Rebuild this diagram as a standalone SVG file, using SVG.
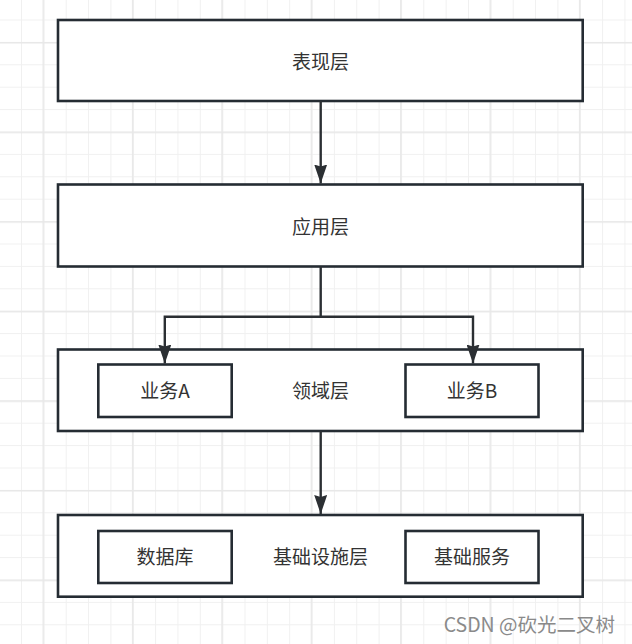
<svg xmlns="http://www.w3.org/2000/svg" width="632" height="644" viewBox="0 0 632 644">
  <defs>
    <pattern id="minor" patternUnits="userSpaceOnUse" x="21" y="19.5" width="22.35" height="22.4">
      <path d="M0.5 0 V22.4 M0 0.5 H22.35" fill="none" stroke="#f0f0f0" stroke-width="1"/>
    </pattern>
    <pattern id="major" patternUnits="userSpaceOnUse" x="42.5" y="42" width="89.4" height="89.6">
      <path d="M0.75 0 V89.6 M0 0.75 H89.4" fill="none" stroke="#e8e8e8" stroke-width="1.5"/>
    </pattern>
    <marker id="head" viewBox="0 0 19 13" refX="19" refY="6.5" markerWidth="19" markerHeight="13" markerUnits="userSpaceOnUse" orient="auto">
      <path d="M0 0 L19 6.5 L0 13 L2 6.5 Z" fill="#2b2f33"/>
    </marker>
  </defs>
  <style>
    .box { fill: #ffffff; stroke: #252c33; stroke-width: 2.6; }
    .lbl { font-family: "Microsoft YaHei", "Noto Sans CJK SC", "Liberation Sans", sans-serif; font-size: 19px; fill: #333333; text-anchor: middle; }
    .edge { fill: none; stroke: #2b2f33; stroke-width: 2.4; }
    .wm { font-family: "Microsoft YaHei", "Noto Sans CJK SC", "Liberation Sans", sans-serif; font-size: 19.5px; fill: #8a8a8a; text-anchor: end; }
  </style>
  <rect width="632" height="644" fill="#ffffff"/>
  <rect width="632" height="644" fill="url(#minor)"/>
  <rect width="632" height="644" fill="url(#major)"/>

  <g id="presentation">
    <rect class="box" x="58" y="20" width="524.7" height="81"/>
    <text class="lbl" x="320.5" y="69">表现层</text>
  </g>
  <g id="application">
    <rect class="box" x="58" y="184.5" width="524.7" height="82"/>
    <text class="lbl" x="320.5" y="234">应用层</text>
  </g>
  <g id="domain">
    <rect class="box" x="58" y="349.5" width="524.7" height="81.5"/>
    <text class="lbl" x="320.5" y="398">领域层</text>
  </g>
  <g id="bizA">
    <rect class="box" x="98.3" y="364.5" width="133.4" height="52.5"/>
    <text class="lbl" x="165" y="398">业务A</text>
  </g>
  <g id="bizB">
    <rect class="box" x="405.5" y="364.5" width="133" height="52.5"/>
    <text class="lbl" x="472" y="398">业务B</text>
  </g>
  <g id="infra">
    <rect class="box" x="58" y="515" width="524.7" height="81.7"/>
    <text class="lbl" x="320.5" y="564">基础设施层</text>
  </g>
  <g id="database">
    <rect class="box" x="98.3" y="531" width="133.4" height="52"/>
    <text class="lbl" x="165" y="564">数据库</text>
  </g>
  <g id="baseService">
    <rect class="box" x="405.5" y="531" width="133" height="52"/>
    <text class="lbl" x="472" y="564">基础服务</text>
  </g>

  <g id="connectors">
    <path class="edge" d="M320.7 101 V183.5" marker-end="url(#head)"/>
    <path class="edge" d="M320.7 266.5 V316.7 H164.8 V363.5" marker-end="url(#head)"/>
    <path class="edge" d="M320.7 316.7 H473 V363.5" marker-end="url(#head)"/>
    <path class="edge" d="M320.7 431 V514" marker-end="url(#head)"/>
  </g>

  <text class="wm" x="615" y="632">CSDN @砍光二叉树</text>
</svg>
